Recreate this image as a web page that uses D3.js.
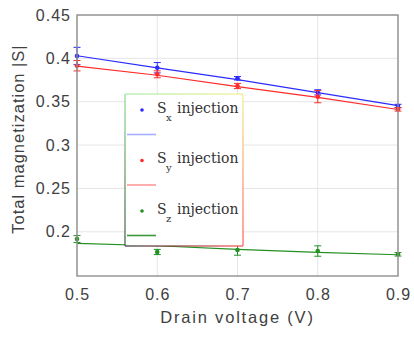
<!DOCTYPE html>
<html>
<head>
<meta charset="utf-8">
<script src="https://cdn.jsdelivr.net/npm/d3@7"></script>
<style>
  body { margin: 0; background: #fff; }
  svg { display: block; }
</style>
</head>
<body>
<svg id="chart" width="414" height="338"></svg>
<script>
// data
var voltages = [0.5, 0.6, 0.7, 0.8, 0.9];
var sxValues = [0.4027, 0.3892, 0.3770, 0.3608, 0.3450];
var sxErrors = [0.010, 0.006, 0.002, 0.003, 0.002];
var sxFit    = [0.4030, 0.3890, 0.3755, 0.3605, 0.3455];
var syValues = [0.3915, 0.3816, 0.3681, 0.3558, 0.3412];
var syErrors = [0.006, 0.004, 0.003, 0.007, 0.002];
var syFit    = [0.3910, 0.3805, 0.3675, 0.3550, 0.3410];
var szValues = [0.1916, 0.1767, 0.1790, 0.1778, 0.1740];
var szErrors = [0.004, 0.003, 0.006, 0.006, 0.002];
var szFit    = [0.1867, 0.1839, 0.1798, 0.1763, 0.1735];
var xTicks = [0.5, 0.6, 0.7, 0.8, 0.9];
var yTicks = [0.2, 0.25, 0.3, 0.35, 0.4, 0.45];
var seriesNames = ["x", "y", "z"];

var series = [
  {sub: seriesNames[0], vals: sxValues, errs: sxErrors, fit: sxFit, color: "#2b2bff", legendLine: "#a9adff"},
  {sub: seriesNames[1], vals: syValues, errs: syErrors, fit: syFit, color: "#ff2a2a", legendLine: "#ff9a9a"},
  {sub: seriesNames[2], vals: szValues, errs: szErrors, fit: szFit, color: "#229022", legendLine: "#3c9a3c"}
];

var svg = d3.select("#chart"),
    margin = {top: 15, right: 16, bottom: 62, left: 77},
    width = +svg.attr("width") - margin.left - margin.right,
    height = +svg.attr("height") - margin.top - margin.bottom,
    g = svg.append("g").attr("transform", "translate(" + margin.left + "," + margin.top + ")");

var x = d3.scaleLinear().domain([0.5, 0.9]).range([0, width]);
var y = d3.scaleLinear().domain([0.149, 0.45]).range([height, 0]);

var textColor = "#404040";

// grid
g.append("g")
    .selectAll("line")
    .data(yTicks)
    .enter().append("line")
      .attr("x1", 0).attr("x2", width)
      .attr("y1", function(d) { return y(d); })
      .attr("y2", function(d) { return y(d); })
      .attr("stroke", "#e6e6e6");
g.append("g")
    .selectAll("line")
    .data(xTicks)
    .enter().append("line")
      .attr("y1", 0).attr("y2", height)
      .attr("x1", function(d) { return x(d); })
      .attr("x2", function(d) { return x(d); })
      .attr("stroke", "#e6e6e6");

// y axis
var yAxis = g.append("g")
    .call(d3.axisLeft(y).tickValues(yTicks).tickSize(0).tickPadding(6).tickFormat(d3.format("~g")));
yAxis.select(".domain").remove();
yAxis.selectAll("text")
    .attr("font-family", "Liberation Sans, Arial, sans-serif")
    .attr("font-size", 16)
    .attr("letter-spacing", 1)
    .attr("fill", textColor);

// x axis
var xAxis = g.append("g")
    .attr("transform", "translate(0," + height + ")")
    .call(d3.axisBottom(x).tickValues(xTicks).tickSize(0).tickPadding(13).tickFormat(d3.format("~g")));
xAxis.select(".domain").remove();
xAxis.selectAll("text")
    .attr("font-family", "Liberation Sans, Arial, sans-serif")
    .attr("font-size", 16)
    .attr("letter-spacing", 1)
    .attr("fill", textColor);

// lines, error bars, markers
var line = d3.line()
    .x(function(d, i) { return x(voltages[i]); })
    .y(function(d) { return y(d); });

series.forEach(function(s) {
  var sg = g.append("g");
  sg.append("path")
      .attr("d", line(s.fit))
      .attr("fill", "none")
      .attr("stroke", s.color)
      .attr("stroke-width", 1.2);

  var eb = sg.selectAll(".err")
      .data(s.vals)
      .enter().append("g")
      .attr("stroke", s.color)
      .attr("stroke-width", 1);
  eb.append("line")
      .attr("x1", function(d, i) { return x(voltages[i]); })
      .attr("x2", function(d, i) { return x(voltages[i]); })
      .attr("y1", function(d, i) { return y(d - s.errs[i]); })
      .attr("y2", function(d, i) { return y(d + s.errs[i]); });
  eb.append("line")
      .attr("x1", function(d, i) { return x(voltages[i]) - 3.5; })
      .attr("x2", function(d, i) { return x(voltages[i]) + 3.5; })
      .attr("y1", function(d, i) { return y(d - s.errs[i]); })
      .attr("y2", function(d, i) { return y(d - s.errs[i]); });
  eb.append("line")
      .attr("x1", function(d, i) { return x(voltages[i]) - 3.5; })
      .attr("x2", function(d, i) { return x(voltages[i]) + 3.5; })
      .attr("y1", function(d, i) { return y(d + s.errs[i]); })
      .attr("y2", function(d, i) { return y(d + s.errs[i]); });

  sg.selectAll("circle")
      .data(s.vals)
      .enter().append("circle")
      .attr("cx", function(d, i) { return x(voltages[i]); })
      .attr("cy", function(d) { return y(d); })
      .attr("r", 2.3)
      .attr("fill", s.color);
});

// axes box
g.append("rect")
    .attr("width", width)
    .attr("height", height)
    .attr("fill", "none")
    .attr("stroke", "#8f8f8f")
    .attr("stroke-width", 1.4);

// axis labels
svg.append("text")
    .attr("x", margin.left + width / 2)
    .attr("y", 323)
    .attr("text-anchor", "middle")
    .attr("font-family", "Liberation Sans, Arial, sans-serif")
    .attr("font-size", 16.5)
    .attr("letter-spacing", 1.8)
    .attr("fill", textColor)
    .text("Drain voltage (V)");

svg.append("text")
    .attr("transform", "translate(24," + 139 + ") rotate(-90)")
    .attr("text-anchor", "middle")
    .attr("font-family", "Liberation Sans, Arial, sans-serif")
    .attr("font-size", 16.5)
    .attr("letter-spacing", 1)
    .attr("fill", textColor)
    .text("Total magnetization |S|");

// legend with its odd coloured frame
var defs = svg.append("defs");
function grad(id, x2, y2, c1, c2) {
  var lg = defs.append("linearGradient").attr("id", id)
      .attr("x1", 0).attr("y1", 0).attr("x2", x2).attr("y2", y2);
  lg.append("stop").attr("offset", "0%").attr("stop-color", c1);
  lg.append("stop").attr("offset", "100%").attr("stop-color", c2);
}
grad("gTop", 1, 0, "#a6eca6", "#f3f08a");
grad("gLeft", 0, 1, "#8ee08e", "#3a5a3a");
grad("gRight", 0, 1, "#f3f08a", "#ff5a5a");
grad("gBot", 1, 0, "#333333", "#ff5050");

var lx0 = 125, ly0 = 94, lx1 = 243, ly1 = 246;
var legend = svg.append("g");
legend.append("rect")
    .attr("x", lx0).attr("y", ly0)
    .attr("width", lx1 - lx0).attr("height", ly1 - ly0)
    .attr("fill", "#fff");
legend.append("rect").attr("x", lx0).attr("y", ly0 - 0.6).attr("width", lx1 - lx0).attr("height", 1.2).attr("fill", "url(#gTop)");
legend.append("rect").attr("x", lx0 - 0.6).attr("y", ly0).attr("width", 1.2).attr("height", ly1 - ly0).attr("fill", "url(#gLeft)");
legend.append("rect").attr("x", lx1 - 0.6).attr("y", ly0).attr("width", 1.2).attr("height", ly1 - ly0).attr("fill", "url(#gRight)");
legend.append("rect").attr("x", lx0).attr("y", ly1 - 0.6).attr("width", lx1 - lx0).attr("height", 1.2).attr("fill", "url(#gBot)");

var entry = legend.selectAll(".entry")
    .data(series)
    .enter().append("g")
    .attr("transform", function(d, i) { return "translate(0," + (i * 50.5) + ")"; });

entry.append("circle")
    .attr("cx", 142).attr("cy", 110)
    .attr("r", 1.8)
    .attr("fill", function(d) { return d.color; });
entry.append("line")
    .attr("x1", 127).attr("x2", 156)
    .attr("y1", 134.5).attr("y2", 134.5)
    .attr("stroke", function(d) { return d.legendLine; })
    .attr("stroke-width", 1.6);

var lt = entry.append("text")
    .attr("font-family", "DejaVu Serif, serif")
    .attr("fill", "#333333");
lt.append("tspan")
    .attr("x", 157).attr("y", 112.7)
    .attr("font-size", 14)
    .text("S");
lt.append("tspan")
    .attr("x", 166).attr("y", 120.5)
    .attr("font-size", 10)
    .text(function(d) { return d.sub; });
lt.append("tspan")
    .attr("x", 177).attr("y", 112.7)
    .attr("font-size", 14)
    .text("injection");
</script>
</body>
</html>
